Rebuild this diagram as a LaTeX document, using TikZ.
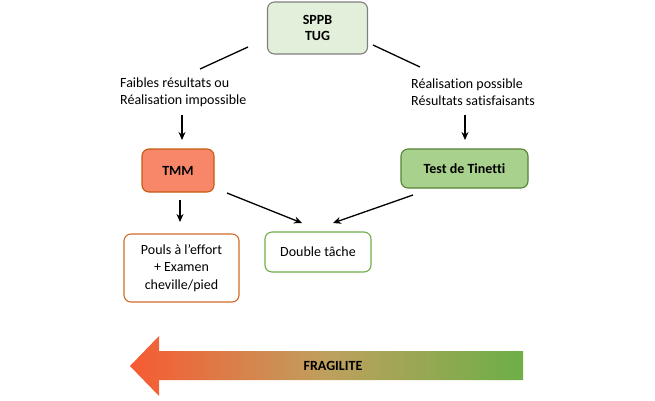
\documentclass[tikz,border=0pt]{standalone}
\usepackage{fontspec}
\setmainfont{Carlito}[Ligatures={NoCommon}]
\usetikzlibrary{arrows.meta}
\definecolor{topfill}{HTML}{E2EFDA}
\definecolor{topdraw}{HTML}{7F7F7F}
\definecolor{tmmfill}{HTML}{F8876A}
\definecolor{tmmdraw}{HTML}{C55A11}
\definecolor{tinfill}{HTML}{A9D18E}
\definecolor{tindraw}{HTML}{548235}
\definecolor{orgdraw}{HTML}{D06A28}
\definecolor{grndraw}{HTML}{70AD47}
\definecolor{arrl}{HTML}{F75A32}
\definecolor{arrm}{HTML}{BFA05E}
\definecolor{arrr}{HTML}{6DAF46}
\tikzset{
  box/.style={draw, rounded corners=7pt, line width=1.1pt, align=center, inner sep=0pt},
  boldtxt/.style={font=\fontsize{14}{16.5}\selectfont\bfseries},
  plaintxt/.style={font=\fontsize{14}{17.5}\selectfont},
  lbl/.style={align=left, font=\fontsize{14}{17}\selectfont, inner sep=0pt},
  conn/.style={line width=1.3pt},
  arr/.style={line width=1.3pt, -{Stealth[length=8pt,width=7pt]}},
}
\begin{document}
\begin{tikzpicture}[x=1pt,y=-1pt]
\useasboundingbox (0,0) rectangle (655,400);
\node[box, boldtxt, fill=topfill, draw=topdraw, minimum width=100pt, minimum height=52pt] (top) at (317.5,28) {SPPB\\TUG};
\node[box, boldtxt, fill=tmmfill, draw=tmmdraw, minimum width=72pt, minimum height=43pt] (tmm) at (178,170.5) {TMM};
\node[box, boldtxt, fill=tinfill, draw=tindraw, minimum width=127pt, minimum height=39pt] (tin) at (464.5,168.5) {Test de Tinetti};
\node[box, plaintxt, fill=white, draw=orgdraw, minimum width=115pt, minimum height=68pt] (pouls) at (181.5,268) {Pouls à l’effort\\+ Examen\\cheville/pied};
\node[box, plaintxt, fill=white, draw=grndraw, minimum width=106pt, minimum height=40pt] (dbl) at (318,252) {Double tâche};
\node[lbl, anchor=west] (ll) at (120,92.5) {Faibles résultats ou\\Réalisation impossible};
\node[lbl, anchor=west] (rl) at (411,92.5) {Réalisation possible\\Résultats satisfaisants};
\coordinate (a1) at (248,47);
\coordinate (a2) at (200,69);
\coordinate (b1) at (373,45);
\coordinate (b2) at (420,67);
\draw[conn] (a1) -- (a2);
\draw[conn] (b1) -- (b2);
\coordinate (c1) at (182,115);
\coordinate (c2) at (182,140);
\coordinate (d1) at (465,115);
\coordinate (d2) at (465,140);
\draw[arr] (c1) -- (c2);
\draw[arr] (d1) -- (d2);
\coordinate (e1) at (180,200);
\coordinate (e2) at (180,222);
\draw[arr] (e1) -- (e2);
\coordinate (f1) at (227,193);
\coordinate (f2) at (302,223);
\draw[arr] (f1) -- (f2);
\coordinate (g1) at (413,195);
\coordinate (g2) at (333,223);
\draw[arr] (g1) -- (g2);
\shade[left color=arrl, right color=arrr, middle color=arrm]
  (130,366) -- (159,336) -- (159,351) -- (523,351) -- (523,380) -- (159,380) -- (159,396) -- cycle;
\node[font=\fontsize{14}{16}\selectfont\bfseries, inner sep=0pt] (frag) at (333,365.5) {FRAGILITE};
\end{tikzpicture}
\end{document}
